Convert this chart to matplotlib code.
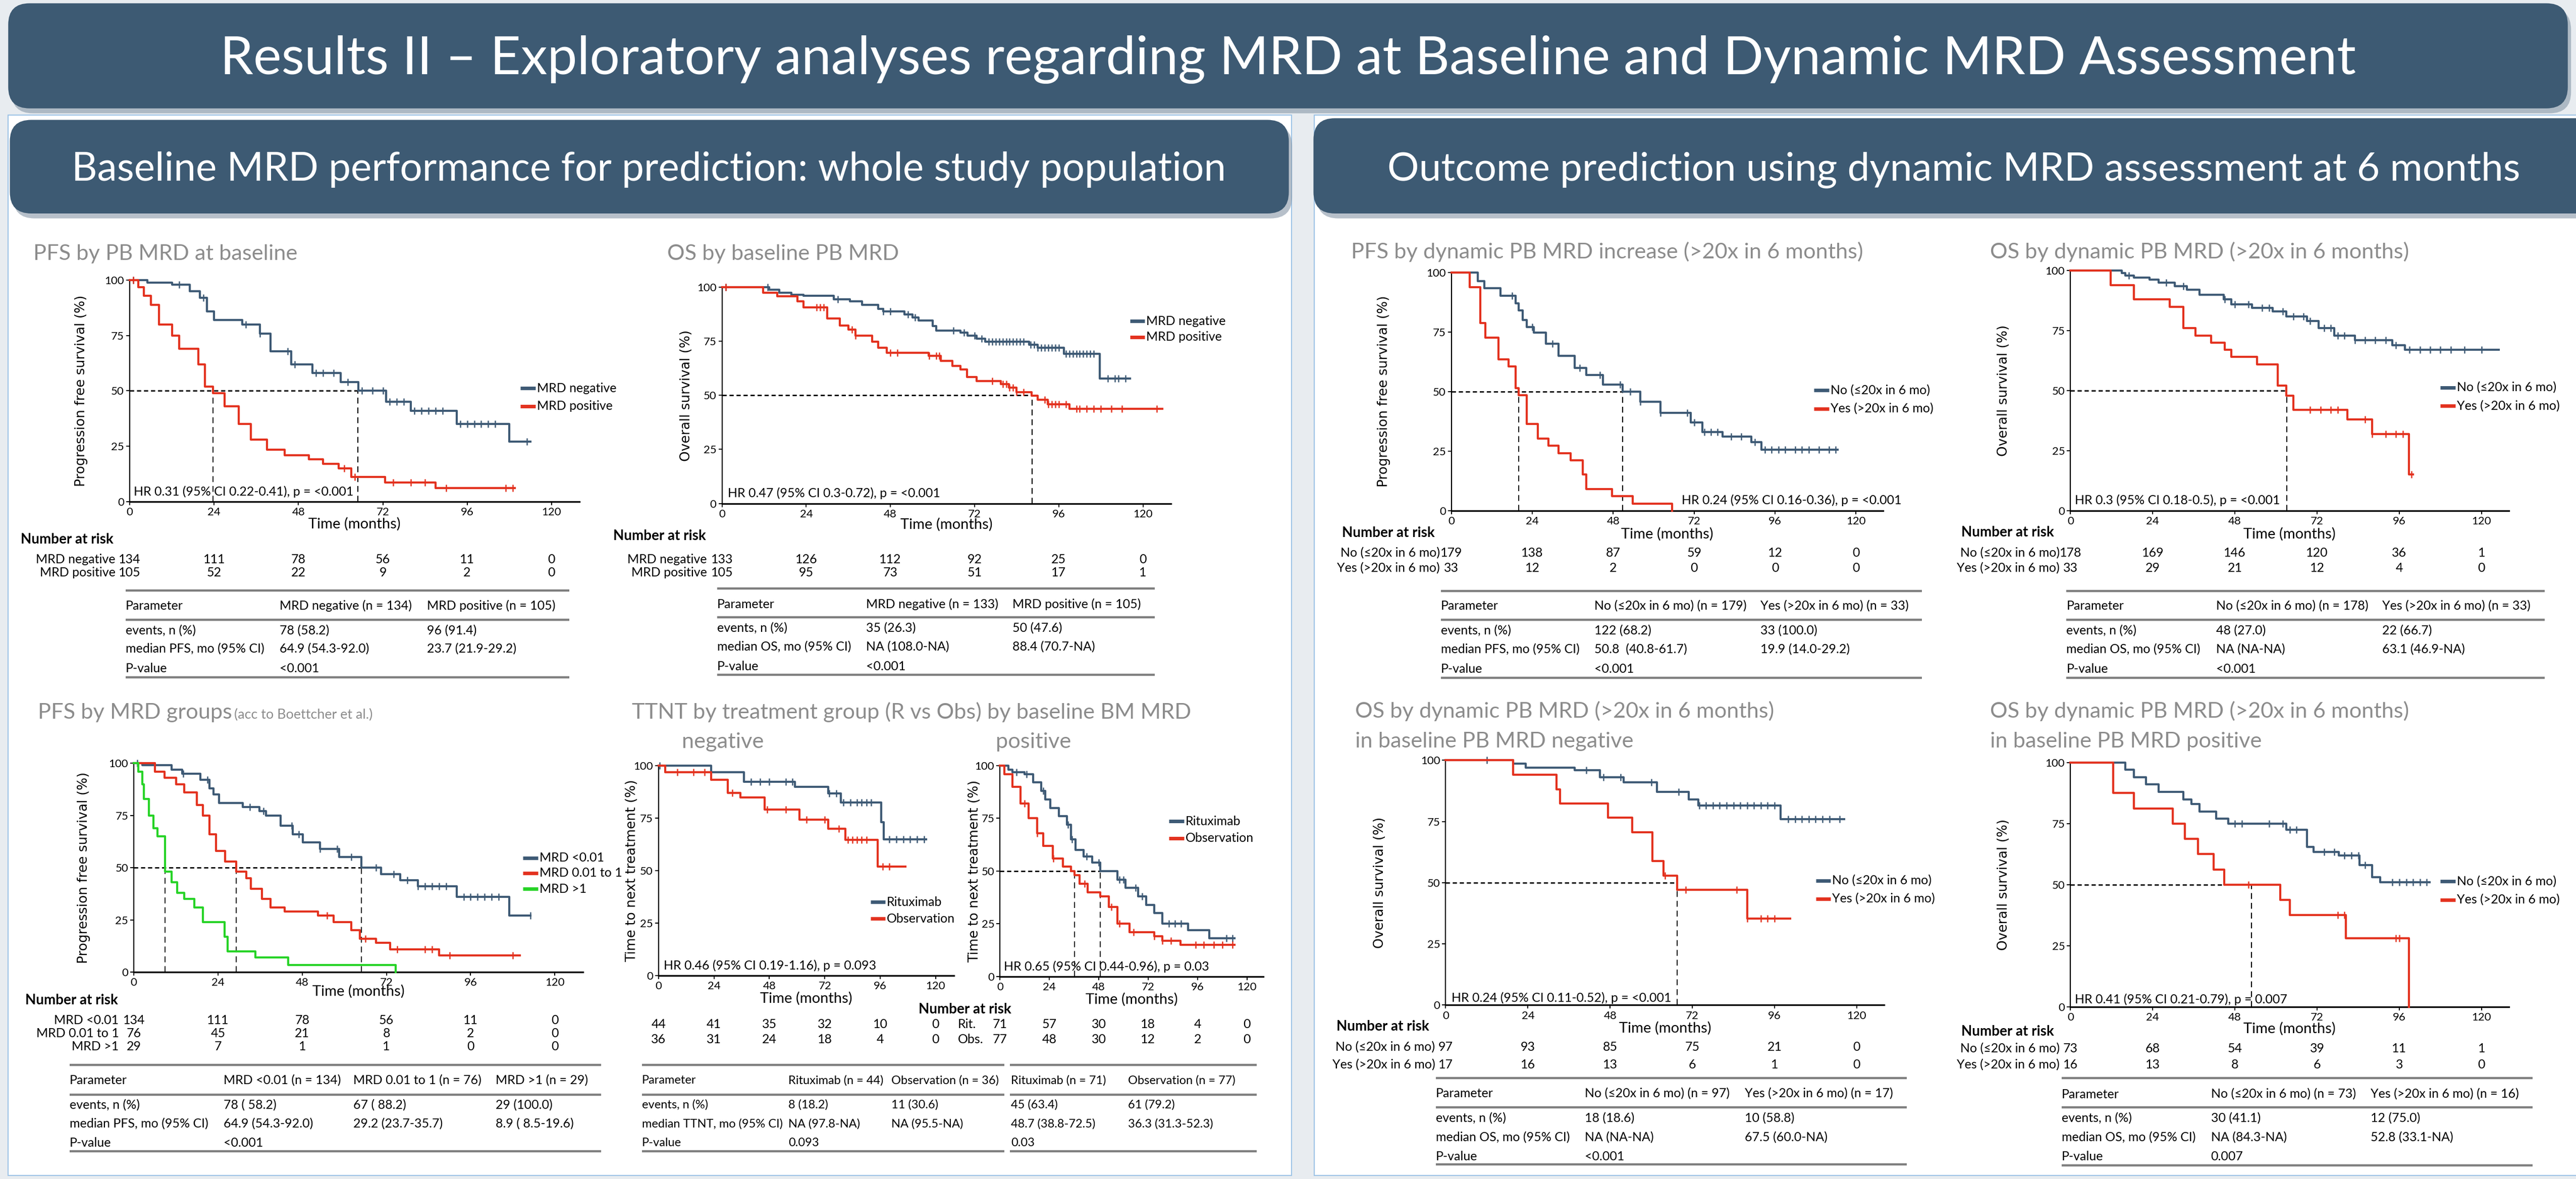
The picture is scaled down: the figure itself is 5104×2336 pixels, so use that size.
import numpy as np
import matplotlib
matplotlib.use("Agg")
import matplotlib.pyplot as plt
from matplotlib.patches import FancyBboxPatch, Rectangle

# layout is measured on the slide scaled to a 1568 x 718 grid
W, H = 1568, 718

NAVY = '#3d5a73'
BLUE = '#3e5a75'
RED = '#e3321f'
GREEN = '#27d327'
TITLE_GREY = '#8c8c8c'
LINE_GREY = '#7f7f7f'

plt.rcParams['font.family'] = ['Lato', 'DejaVu Sans']

months = [0, 24, 48, 72, 96, 120]

# ---------------- data ----------------
# PFS by PB MRD at baseline
pfs_neg_t = [0, 5, 12, 17, 20, 22, 24, 32, 37, 40, 46, 52, 60, 65, 73, 80, 93, 108, 114]
pfs_neg_s = [100, 99, 98, 95, 92, 86, 82, 80, 76, 68, 62, 58, 54, 50, 45, 41, 35, 27, 27]
pfs_neg_c = [1, 14, 21, 33, 37, 45, 47, 53, 55, 58, 62, 66, 69, 72, 74, 76, 78, 81, 83, 85, 87, 89, 94, 96, 98, 100, 102, 104, 113]
pfs_pos_t = [0, 2.4, 4, 6, 8.3, 12, 14, 19.5, 21.4, 23.7, 27, 31, 34.5, 39, 44, 51, 55, 59.5, 63, 72.6, 87, 109.5]
pfs_pos_s = [100, 97, 93, 89, 80, 75, 69, 62, 52, 49, 43, 35, 28, 23.5, 21, 19, 17, 15, 11, 8.5, 6, 6]
pfs_pos_c = [1, 61, 64, 75, 80, 84, 90, 107, 109]

# OS by baseline PB MRD
os_neg_t = [0, 13.4, 16.3, 19.8, 23.2, 31.8, 36.4, 39.9, 44.5, 46, 52, 54.3, 56, 60, 61, 68, 70, 72.6, 75, 87.6, 90, 97.4, 107.7, 116.3]
os_neg_s = [100, 99, 97.5, 96.5, 96, 94.5, 93.5, 92, 90, 88.8, 87.5, 86, 84.7, 82, 80, 79, 77.7, 76.3, 74.9, 73.5, 72.1, 69.3, 57.7, 57.7]
os_neg_c = [1, 13, 33, 46, 48, 53, 55, 66, 69, 72, 74, 76, 77, 78, 79, 80, 81, 82, 83, 84, 85, 86, 88, 89, 90, 91,
            92, 93, 94, 95, 96, 98, 99, 100, 101, 102, 103, 104, 105, 106, 110, 112, 113, 115]
os_pos_t = [0, 11.7, 15.7, 21.5, 23.2, 30, 33.6, 36, 38, 42.8, 44.5, 47, 58.9, 62.3, 65.7, 68, 69.8, 72.6, 79.5, 81.8, 84, 88.2, 90, 92.8, 99, 125.5]
os_pos_s = [100, 97.4, 95.8, 93.5, 90.7, 85.6, 82.3, 80.5, 77.7, 74.9, 72.1, 69.8, 68.4, 66, 63.7, 61.9, 58.6, 56.7, 55.3, 53.5, 51.6, 49.8, 47.9, 46, 43.7, 43.7]
os_pos_c = [1, 27, 28, 29, 37, 38, 48, 50, 59, 61, 62, 77, 80, 81, 82, 83, 84, 86, 92, 93, 94, 95, 96, 98, 101, 102,
            104, 106, 108, 111, 114, 124]

# PFS by MRD groups
grp_lo_t = [0, 2.4, 10.7, 13.8, 19, 21.5, 22.7, 24.3, 31, 35.8, 37.7, 41.8, 45.3, 48.2, 53, 58.5, 64.9, 70.4, 76, 81, 92, 107, 113]
grp_lo_s = [100, 99, 97, 95, 92, 88, 85, 81, 79, 77, 75, 70, 66, 62, 59, 55, 50, 47, 44, 41, 36, 27, 27]
grp_lo_c = [1, 14, 21, 33, 37, 45, 47, 53, 58, 62, 69, 74, 78, 81, 83, 85, 87, 89, 94, 96, 98, 100, 102, 104, 113]
grp_mid_t = [0, 6, 8.8, 12, 14.3, 18, 19.6, 21.5, 23.4, 26, 29.2, 32, 33.4, 36.5, 39, 43, 52.5, 57, 62, 64.4, 69, 73, 87, 110]
grp_mid_s = [100, 96, 93, 90, 86, 80, 75, 66, 58, 53, 48, 45, 40, 35, 31, 29, 27, 24, 20, 16, 14, 11, 8, 8]
grp_mid_c = [55, 66, 75, 83, 85, 90, 108]
grp_hi_t = [0, 1.2, 2.4, 2.9, 4.3, 5.5, 6.7, 8.9, 10.7, 12.4, 14.3, 17.2, 19.6, 25.8, 26.7, 34.6, 44, 74.7]
grp_hi_s = [100, 96, 90, 83, 75, 69, 65, 48, 43, 38, 35, 31, 24, 17, 10, 7, 3.4, 0]

# TTNT, baseline BM MRD negative
tn_rit_t = [0, 22.8, 37, 59, 73.5, 79, 96.5, 97.5, 116]
tn_rit_s = [100, 97, 92.4, 90, 86.7, 82.6, 73, 65, 65]
tn_rit_c = [0.5, 40, 44, 48, 55, 58, 74, 77, 80, 83, 86, 88, 90, 92, 100, 103, 106, 109, 112, 115]
tn_obs_t = [0, 2.9, 22.8, 30, 35.5, 46, 61, 73.5, 81, 95, 107]
tn_obs_s = [100, 97, 93.4, 87, 85, 79, 74.4, 70, 64.6, 52, 52]
tn_obs_c = [8, 15, 20, 32, 47, 55, 64, 72, 78, 82, 84, 86, 88, 90, 97, 100]

# TTNT, baseline BM MRD positive
tp_rit_t = [0, 4, 6, 12, 16, 20, 22, 24.4, 28.5, 32.5, 34.6, 36.6, 40.7, 44.7, 48.7, 57, 61, 67, 71, 75, 79, 91.5, 101.6, 114]
tp_rit_s = [100, 98, 97, 96, 92, 88, 84, 80, 76, 72, 65, 60, 57, 54, 50, 46, 42, 38, 34, 30, 25, 22, 18, 18]
tp_rit_c = [8, 13, 21, 33, 35, 42, 48, 58, 60, 66, 69, 82, 85, 88, 110, 113]
tp_obs_t = [0, 2, 6, 10, 14, 18, 21, 25.6, 30.5, 34.6, 36.3, 38.6, 42.7, 48.8, 52.8, 57, 63, 75, 79, 87.8, 114]
tp_obs_s = [100, 96, 90, 82, 75, 68, 62, 56, 52, 50, 48, 44, 40, 38, 33, 25, 21, 19, 17, 15, 15]
tp_obs_c = [12, 18, 26, 41, 54, 58, 65, 75, 79, 83, 95, 99, 104, 108, 113]

# PFS by dynamic PB MRD increase
dp_no_t = [0, 7.8, 9.8, 14.6, 19, 20, 21.2, 22.4, 24.4, 28, 31.7, 36.6, 40, 45, 50.8, 56, 62, 71, 74.4, 80.5, 89, 92, 114.6]
dp_no_s = [100, 96.3, 93.3, 90.3, 87, 84, 80, 77, 74.7, 70, 65, 60, 57, 53, 50, 45.8, 41, 37, 33, 31, 28.7, 25.5, 25.5]
dp_no_c = [18, 24, 30, 38, 44, 50, 53, 56, 62, 70, 72, 75, 77, 79, 83, 86, 90, 93, 95, 97, 99, 102, 104, 106, 109, 112, 114]
dp_yes_t = [0, 5.4, 8.5, 10, 14, 17, 19, 19.9, 22.4, 25.6, 28.8, 31.7, 35.4, 39, 40, 47.6, 53.7, 65.4]
dp_yes_s = [100, 93.9, 78.8, 72.7, 63.6, 60.6, 51.5, 48.5, 36.4, 30.3, 27.3, 24.2, 21.2, 15.2, 9.1, 6.1, 3.0, 0]

# OS by dynamic PB MRD
do_no_t = [0, 15, 16, 18.5, 23, 25.7, 30.5, 34, 37.7, 44.8, 47, 53, 59, 63, 69, 72.5, 77, 83, 94, 97.7, 125]
do_no_s = [100, 99, 98, 97, 96.3, 95, 93.5, 92, 90, 88, 86, 84.5, 83, 81, 79, 76, 73, 71, 69, 67, 67]
do_no_c = [17, 28, 33, 45, 48, 52, 56, 58, 62, 65, 68, 70, 74, 76, 78, 80, 83, 86, 89, 92, 95, 99, 102, 105, 108, 111, 115, 120]
do_yes_t = [0, 11.8, 18.5, 29, 33, 36.5, 41, 45, 47, 54.5, 60.5, 63, 65, 80.8, 88, 98.8, 100]
do_yes_s = [100, 94, 88, 85, 76, 73, 70, 67, 64, 61, 52, 48, 42, 38, 32, 15, 15]
do_yes_c = [70, 73, 76, 78, 86, 88, 92, 95, 97, 99.5]

# OS by dynamic PB MRD, baseline PB MRD negative
on_no_t = [0, 19.7, 23.3, 37.7, 45, 52, 61.7, 71, 73.7, 97.7, 116.4]
on_no_s = [100, 98.7, 97, 96, 93, 91, 87, 84, 81.6, 76, 76]
on_no_c = [12, 41, 46, 51, 60, 68, 74, 76, 78, 80, 82, 84, 86, 88, 90, 92, 94, 96, 100, 102, 104, 106, 108, 110, 112, 115]
on_yes_t = [0, 19.7, 32.4, 33.4, 47.3, 54.4, 60.4, 63.6, 67.6, 88, 100.6]
on_yes_s = [100, 94.1, 88.2, 82.4, 76.5, 70.6, 58.8, 52.9, 47.1, 35.3, 35.3]
on_yes_c = [64, 70, 85, 88, 92, 94, 96]

# OS by dynamic PB MRD, baseline PB MRD positive
op_no_t = [0, 16, 18.5, 22, 25.7, 32.9, 35.3, 37.7, 42.5, 46, 63, 69, 71, 78.4, 84.4, 88, 90.4, 104.8]
op_no_s = [100, 97, 94, 91, 88, 85, 83, 80, 77, 75, 72.5, 65.5, 63.5, 62, 58, 53, 51, 51]
op_no_c = [48, 50, 58, 62, 64, 66, 74, 77, 80, 82, 84, 86, 94, 96, 98, 100, 102, 104]
op_yes_t = [0, 12.5, 18.5, 29.8, 33.4, 37.2, 41.8, 44.9, 61.2, 64, 80.4, 98.8]
op_yes_s = [100, 87.5, 81.25, 75, 68.75, 62.5, 56.25, 50, 43.75, 37.5, 28.1, 0]
op_yes_c = [52, 78, 80, 95, 96]

# number at risk
nar_mrd = ['MRD negative', 'MRD positive']
nar_grp = ['MRD <0.01', 'MRD 0.01 to 1', 'MRD >1']
nar_dyn = ['No (\u226420x in 6 mo)', 'Yes (>20x in 6 mo)']
risk_pfs = [[134, 111, 78, 56, 11, 0], [105, 52, 22, 9, 2, 0]]
risk_os = [[133, 126, 112, 92, 25, 0], [105, 95, 73, 51, 17, 1]]
risk_grp = [[134, 111, 78, 56, 11, 0], [76, 45, 21, 8, 2, 0], [29, 7, 1, 1, 0, 0]]
risk_tn = [[44, 41, 35, 32, 10, 0], [36, 31, 24, 18, 4, 0]]
risk_tp = [[71, 57, 30, 18, 4, 0], [77, 48, 30, 12, 2, 0]]
risk_dp = [[179, 138, 87, 59, 12, 0], [33, 12, 2, 0, 0, 0]]
risk_do = [[178, 169, 146, 120, 36, 1], [33, 29, 21, 12, 4, 0]]
risk_on = [[97, 93, 85, 75, 21, 0], [17, 16, 13, 6, 1, 0]]
risk_op = [[73, 68, 54, 39, 11, 1], [16, 13, 8, 6, 3, 0]]

# summary tables
tab_pfs = [['Parameter', 'MRD negative (n = 134)', 'MRD positive (n = 105)'],
           ['events, n (%)', '78 (58.2)', '96 (91.4)'],
           ['median PFS, mo (95% CI)', '64.9 (54.3-92.0)', '23.7 (21.9-29.2)'],
           ['P-value', '<0.001', '']]
tab_os = [['Parameter', 'MRD negative (n = 133)', 'MRD positive (n = 105)'],
          ['events, n (%)', '35 (26.3)', '50 (47.6)'],
          ['median OS, mo (95% CI)', 'NA (108.0-NA)', '88.4 (70.7-NA)'],
          ['P-value', '<0.001', '']]
tab_grp = [['Parameter', 'MRD <0.01 (n = 134)', 'MRD 0.01 to 1 (n = 76)', 'MRD >1 (n = 29)'],
           ['events, n (%)', '78 ( 58.2)', '67 ( 88.2)', '29 (100.0)'],
           ['median PFS, mo (95% CI)', '64.9 (54.3-92.0)', '29.2 (23.7-35.7)', '8.9 ( 8.5-19.6)'],
           ['P-value', '<0.001', '', '']]
tab_tn = [['Parameter', 'Rituximab (n = 44)', 'Observation (n = 36)'],
          ['events, n (%)', '8 (18.2)', '11 (30.6)'],
          ['median TTNT, mo (95% CI)', 'NA (97.8-NA)', 'NA (95.5-NA)'],
          ['P-value', '0.093', '']]
tab_tp = [['Rituximab (n = 71)', 'Observation (n = 77)'],
          ['45 (63.4)', '61 (79.2)'],
          ['48.7 (38.8-72.5)', '36.3 (31.3-52.3)'],
          ['0.03', '']]
tab_dp = [['Parameter', 'No (\u226420x in 6 mo) (n = 179)', 'Yes (>20x in 6 mo) (n = 33)'],
          ['events, n (%)', '122 (68.2)', '33 (100.0)'],
          ['median PFS, mo (95% CI)', '50.8  (40.8-61.7)', '19.9 (14.0-29.2)'],
          ['P-value', '<0.001', '']]
tab_do = [['Parameter', 'No (\u226420x in 6 mo) (n = 178)', 'Yes (>20x in 6 mo) (n = 33)'],
          ['events, n (%)', '48 (27.0)', '22 (66.7)'],
          ['median OS, mo (95% CI)', 'NA (NA-NA)', '63.1 (46.9-NA)'],
          ['P-value', '<0.001', '']]
tab_on = [['Parameter', 'No (\u226420x in 6 mo) (n = 97)', 'Yes (>20x in 6 mo) (n = 17)'],
          ['events, n (%)', '18 (18.6)', '10 (58.8)'],
          ['median OS, mo (95% CI)', 'NA (NA-NA)', '67.5 (60.0-NA)'],
          ['P-value', '<0.001', '']]
tab_op = [['Parameter', 'No (\u226420x in 6 mo) (n = 73)', 'Yes (>20x in 6 mo) (n = 16)'],
          ['events, n (%)', '30 (41.1)', '12 (75.0)'],
          ['median OS, mo (95% CI)', 'NA (84.3-NA)', '52.8 (33.1-NA)'],
          ['P-value', '0.007', '']]

# ---------------- figure ----------------
fig = plt.figure(figsize=(51.04, 23.36), dpi=100, facecolor='#e8ecf0')
bg = fig.add_axes([0, 0, 1, 1])
bg.set_xlim(0, W)
bg.set_ylim(H, 0)
bg.axis('off')
rend = fig.canvas.get_renderer()
PX = fig.bbox.width / W


def fit(x0, x1, y, s, ha='left', **kw):
    xpos = x0 if ha == 'left' else (x0 + x1) / 2
    t = bg.text(xpos, y, s, fontsize=20, ha=ha, va='baseline', **kw)
    w = t.get_window_extent(rend).width
    t.set_fontsize(20 * (x1 - x0) * PX / w)
    return t


def banner(x0, y0, x1, y1):
    bg.add_patch(FancyBboxPatch((x0 + 2, y0 + 3), x1 - x0, y1 - y0,
                                boxstyle='round,pad=0,rounding_size=13',
                                fc='#8797a8', ec='none', alpha=0.6))
    bg.add_patch(FancyBboxPatch((x0, y0), x1 - x0, y1 - y0,
                                boxstyle='round,pad=0,rounding_size=13',
                                fc=NAVY, ec='none'))


# panel frames and banners
bg.add_patch(Rectangle((5, 70), 781, 646, fc='white', ec='#9dc3e6', lw=1.5))
bg.add_patch(Rectangle((800, 70), 790, 646, fc='white', ec='#9dc3e6', lw=1.5))
banner(5, 2, 1563, 66)
banner(6, 73, 784.5, 130)
banner(799.5, 72, 1600, 130)
fit(132.4, 1435.6, 45.3, 'Results II \u2013 Exploratory analyses regarding MRD at Baseline and Dynamic MRD Assessment',
    ha='center', color='white')
fit(42.3, 747.8, 110, 'Baseline MRD performance for prediction: whole study population', ha='center', color='white')
fit(843.4, 1535, 110, 'Outcome prediction using dynamic MRD assessment at 6 months', ha='center', color='white')

# chart titles
tsize = fit(1211.3, 1466.4, 157.3, 'OS by dynamic PB MRD (>20x in 6 months)', color=TITLE_GREY).get_fontsize()
chart_titles = [(20.4, 158.4, 'PFS by PB MRD at baseline'),
                (406, 158.4, 'OS by baseline PB MRD'),
                (22.9, 437.7, 'PFS by MRD groups'),
                (384.6, 437.7, 'TTNT by treatment group (R vs Obs) by baseline BM MRD'),
                (822.4, 157.3, 'PFS by dynamic PB MRD increase (>20x in 6 months)'),
                (824.9, 437.2, 'OS by dynamic PB MRD (>20x in 6 months)'),
                (824.9, 455.3, 'in baseline PB MRD negative'),
                (1211.3, 437.2, 'OS by dynamic PB MRD (>20x in 6 months)'),
                (1211.3, 455.3, 'in baseline PB MRD positive')]
for x, y, s in chart_titles:
    bg.text(x, y, s, fontsize=tsize, color=TITLE_GREY, va='baseline')
fit(142.6, 226.7, 437.7, '(acc to Boettcher et al.)', color=TITLE_GREY)
bg.text(440, 455.4, 'negative', fontsize=tsize, color=TITLE_GREY, ha='center', va='baseline')
bg.text(629, 455.4, 'positive', fontsize=tsize, color=TITLE_GREY, ha='center', va='baseline')


def km_panel(x0, x120, y100, y0, curves, medians, ylabel, ylab_x, xlab_y, xmax=128):
    ppm = (x120 - x0) / 120.0
    ax = fig.add_axes([x0 / W, 1 - y0 / H, xmax * ppm / W, (y0 - y100) / H])
    ax.set_xlim(0, xmax)
    ax.set_ylim(0, 100)
    ax.patch.set_alpha(0)
    ax.spines[['top', 'right']].set_visible(False)
    ax.spines['left'].set_linewidth(1.6)
    ax.spines['bottom'].set_linewidth(2.4)
    ax.set_xticks(months)
    ax.set_yticks([0, 25, 50, 75, 100])
    ax.tick_params(length=5, width=1.4, labelsize=16, pad=3)
    if medians:
        ax.plot([0, max(medians)], [50, 50], color='k', lw=2.0, ls=(0, (3, 2)), zorder=2)
        for m in medians:
            ax.plot([m, m], [0, 50], color='k', lw=1.4, ls=(0, (6, 4)), zorder=2)
    for t, s, cens, col in curves:
        ax.step(t, s, where='post', color=col, lw=3.0, clip_on=False, zorder=3)
        if cens:
            idx = np.searchsorted(t, cens, side='right') - 1
            ax.plot(cens, np.asarray(s)[idx], ls='none', marker='|', ms=10, mew=1.8,
                    color=col, clip_on=False, zorder=3)
    bg.text(ylab_x, (y0 + y100) / 2, ylabel, rotation=90, ha='center', va='center',
            family='DejaVu Sans', fontsize=19)
    bg.text(x0 + xmax * ppm / 2, xlab_y, 'Time (months)', ha='center', va='center', fontsize=21)
    return [x0 + m * ppm for m in months]


def legend(lx, ys, labels, colors):
    for y, lab, col in zip(ys, labels, colors):
        bg.plot([lx, lx + 9], [y, y], color=col, lw=5, solid_capstyle='butt')
        bg.text(lx + 10, y, lab, va='center', fontsize=18)


def risk(title_x, title_y, title_ha, lab_right, xs, ys, labels, rows):
    if title_x is not None:
        bg.text(title_x, title_y, 'Number at risk', fontweight='bold', fontsize=20, ha=title_ha, va='center')
    for y, lab, row in zip(ys, labels, rows):
        if lab:
            bg.text(lab_right, y, lab, ha='right', va='center', fontsize=18)
        for x, v in zip(xs, row):
            bg.text(x, y, str(v), ha='center', va='center', fontsize=18)


def table(x0, x1, lines, ys, cols, cells, size=18):
    for ly in lines:
        bg.plot([x0, x1], [ly, ly], color=LINE_GREY, lw=3.2, solid_capstyle='butt')
    for y, row in zip(ys, cells):
        for x, s in zip(cols, row):
            bg.text(x, y, s, va='center', fontsize=size)


PFS_LAB = 'Progression free survival (%)'
OS_LAB = 'Overall survival (%)'
TT_LAB = 'Time to next treatment (%)'
HR = dict(fontsize=18, va='baseline')

# --- PFS by PB MRD at baseline
xs = km_panel(79, 335.7, 170.7, 305.4,
              [(pfs_neg_t, pfs_neg_s, pfs_neg_c, BLUE), (pfs_pos_t, pfs_pos_s, pfs_pos_c, RED)],
              [64.9, 23.7], PFS_LAB, 49.4, 319)
legend(316.8, [236.4, 247.4], nar_mrd, [BLUE, RED])
bg.text(81.5, 301.7, 'HR 0.31 (95% CI 0.22-0.41), p = <0.001', **HR)
risk(12.7, 328.6, 'left', 70.3, xs, [340.8, 348.8], nar_mrd, risk_pfs)
table(76.4, 346.4, [359.7, 377.4, 412.5], [368.9, 384, 395.3, 407], [76.4, 170.1, 259.8], tab_pfs)

# --- OS by baseline PB MRD
xs = km_panel(439.5, 695.7, 175, 306.6,
              [(os_neg_t, os_neg_s, os_neg_c, BLUE), (os_pos_t, os_pos_s, os_pos_c, RED)],
              [88.4], OS_LAB, 417.7, 319.4)
legend(687.7, [195.5, 205.2], nar_mrd, [BLUE, RED])
bg.text(443, 302.8, 'HR 0.47 (95% CI 0.3-0.72), p = <0.001', **HR)
risk(373.4, 326.5, 'left', 430.4, xs, [340.8, 348.8], nar_mrd, risk_os)
table(436.5, 703, [358.5, 376, 411], [368, 382.7, 394, 406], [436.5, 527.2, 616.4], tab_os)

# --- PFS by MRD groups
xs = km_panel(81.5, 337.7, 464.8, 592,
              [(grp_lo_t, grp_lo_s, grp_lo_c, BLUE), (grp_mid_t, grp_mid_s, grp_mid_c, RED),
               (grp_hi_t, grp_hi_s, [], GREEN)],
              [64.9, 29.2, 8.9], PFS_LAB, 51, 603.8)
legend(318.4, [522.5, 531.7, 541.4], nar_grp, [BLUE, RED, GREEN])
risk(15.3, 609.2, 'left', 72.3, xs, [621.3, 629.3, 637.3], nar_grp, risk_grp)
table(42.3, 365.8, [648.4, 666.6, 701.2], [657.9, 672.9, 684.3, 695.9], [42.3, 136, 215, 301.6], tab_grp)

# --- TTNT negative / positive
xs_n = km_panel(400.9, 569.5, 466.3, 594.2,
                [(tn_rit_t, tn_rit_s, tn_rit_c, BLUE), (tn_obs_t, tn_obs_s, tn_obs_c, RED)],
                [], TT_LAB, 384.6, 608)
legend(529.8, [549.3, 559.5], ['Rituximab', 'Observation'], [BLUE, RED])
bg.text(404, 590.3, 'HR 0.46 (95% CI 0.19-1.16), p = 0.093', **HR)
xs_p = km_panel(608.7, 759, 466.3, 594.6,
                [(tp_rit_t, tp_rit_s, tp_rit_c, BLUE), (tp_obs_t, tp_obs_s, tp_obs_c, RED)],
                [48.7, 36.3], TT_LAB, 593.4, 608.7)
legend(711.6, [500.2, 510.4], ['Rituximab', 'Observation'], [BLUE, RED])
bg.text(611, 591, 'HR 0.65 (95% CI 0.44-0.96), p = 0.03', **HR)
risk(587.3, 614.7, 'center', 0, xs_n, [623.7, 632.9], [None, None], risk_tn)
risk(None, 0, 'left', 0, xs_p, [623.7, 632.9], [None, None], risk_tp)
bg.text(583, 623.7, 'Rit.', va='center', fontsize=18)
bg.text(583, 632.9, 'Obs.', va='center', fontsize=18)
table(390.7, 611.3, [648.4, 666.6, 701.2], [657.9, 672.9, 684.3, 695.9], [390.7, 479.9, 542.5], tab_tn, 17)
table(614.8, 765.1, [648.4, 666.6, 701.2], [657.9, 672.9, 684.3, 695.9], [615.4, 686.7], tab_tp, 17)

# --- PFS by dynamic PB MRD increase
xs = km_panel(883.5, 1129.7, 165.9, 311,
              [(dp_no_t, dp_no_s, dp_no_c, BLUE), (dp_yes_t, dp_yes_s, [], RED)],
              [50.8, 19.9], PFS_LAB, 842.4, 325.4)
legend(1104.2, [237.7, 248.9], nar_dyn, [BLUE, RED])
bg.text(1023.6, 307, 'HR 0.24 (95% CI 0.16-0.36), p = <0.001', **HR)
risk(816.9, 324.7, 'left', 876.5, xs, [336.8, 345.9], nar_dyn, risk_dp)
table(877, 1170, [359.9, 377.5, 412.7], [369.1, 384, 395.4, 407.4], [877, 970.5, 1071.6], tab_dp)

# --- OS by dynamic PB MRD
xs = km_panel(1260.3, 1510.5, 164.8, 311,
              [(do_no_t, do_no_s, do_no_c, BLUE), (do_yes_t, do_yes_s, do_yes_c, RED)],
              [63.1], OS_LAB, 1219.7, 325.4)
legend(1485.5, [236, 247.2], nar_dyn, [BLUE, RED])
bg.text(1262.8, 307, 'HR 0.3 (95% CI 0.18-0.5), p = <0.001', **HR)
risk(1193.7, 324.3, 'left', 1253.8, xs, [336.8, 345.9], nar_dyn, risk_do)
table(1257.8, 1549, [359.9, 377.5, 412.7], [369.1, 384, 395.4, 407.4], [1257.8, 1348.9, 1450], tab_do)

# --- OS, baseline PB MRD negative
xs = km_panel(880, 1130.2, 463, 612.1,
              [(on_no_t, on_no_s, on_no_c, BLUE), (on_yes_t, on_yes_s, on_yes_c, RED)],
              [67.5], OS_LAB, 840, 626.2)
legend(1105.2, [536.2, 547.4], nar_dyn, [BLUE, RED])
bg.text(883.5, 610, 'HR 0.24 (95% CI 0.11-0.52), p = <0.001', **HR)
risk(813.4, 625.1, 'left', 873.5, xs, [637.7, 648.3], nar_dyn, risk_on)
table(874, 1160.7, [656.4, 674.5, 709.2], [666, 680.9, 692.6, 704.3], [874, 964.5, 1062], tab_on)

# --- OS, baseline PB MRD positive
xs = km_panel(1260.3, 1510.5, 464.4, 613.2,
              [(op_no_t, op_no_s, op_no_c, BLUE), (op_yes_t, op_yes_s, op_yes_c, RED)],
              [52.8], OS_LAB, 1219.7, 626.6)
legend(1485.5, [536.8, 547.9], nar_dyn, [BLUE, RED])
bg.text(1262.8, 611, 'HR 0.41 (95% CI 0.21-0.79), p = 0.007', **HR)
risk(1193.7, 628.3, 'left', 1253.8, xs, [638.7, 648.3], nar_dyn, risk_op)
table(1254.8, 1541.5, [656.4, 674.5, 709.6], [666.4, 680.9, 692.6, 704.3], [1254.8, 1345.8, 1443], tab_op)

fig.savefig('out.png', dpi=100, facecolor=fig.get_facecolor())
